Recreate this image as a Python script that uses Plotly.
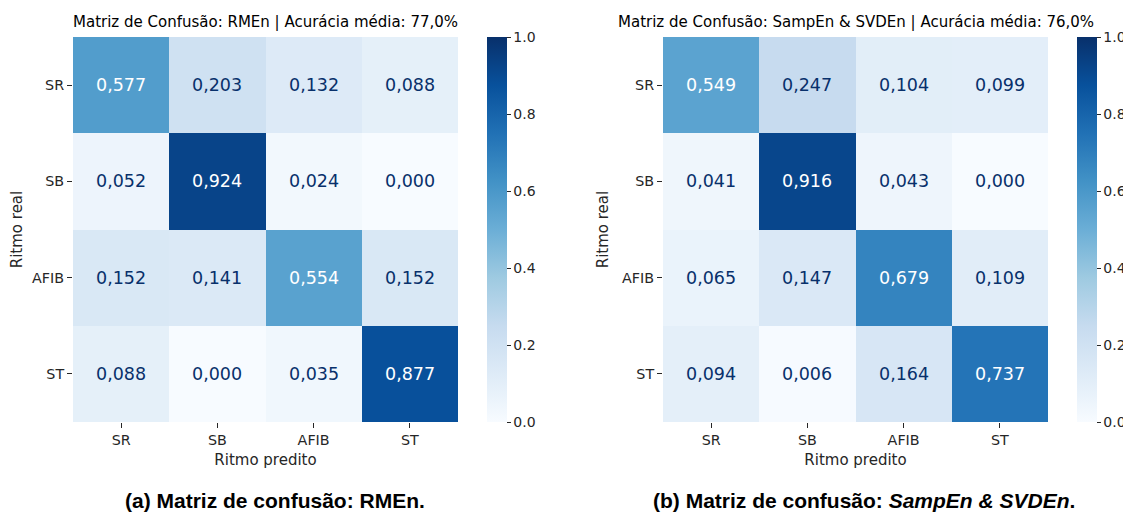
import plotly.graph_objects as go

labels = ["SR", "SB", "AFIB", "ST"]

cm_rmen = [
    [0.577, 0.203, 0.132, 0.088],
    [0.052, 0.924, 0.024, 0.000],
    [0.152, 0.141, 0.554, 0.152],
    [0.088, 0.000, 0.035, 0.877],
]
cm_samp_svd = [
    [0.549, 0.247, 0.104, 0.099],
    [0.041, 0.916, 0.043, 0.000],
    [0.065, 0.147, 0.679, 0.109],
    [0.094, 0.006, 0.164, 0.737],
]
titles = [
    "Matriz de Confusão: RMEn | Acurácia média: 77,0%",
    "Matriz de Confusão: SampEn & SVDEn | Acurácia média: 76,0%",
]
captions = [
    "<b>(a) Matriz de confusão: RMEn.</b>",
    "<b>(b) Matriz de confusão: <i>SampEn & SVDEn</i>.</b>",
]
cbar_ticks = [0.0, 0.2, 0.4, 0.6, 0.8, 1.0]

blues = [
    [0.0, "#f7fbff"], [0.125, "#deebf7"], [0.25, "#c6dbef"], [0.375, "#9ecae1"],
    [0.5, "#6baed6"], [0.625, "#4292c6"], [0.75, "#2171b5"], [0.875, "#08519c"],
    [1.0, "#08306b"],
]

# page body has an 8px default margin; compensate so the layout matches the window
OFF = 8
W, H = 1131 - OFF, 514 - OFF
def px_x(p): return (p - OFF) / W
def px_y(p): return 1 - (p - OFF) / H

y_top, y_bot = 37, 422
panels = [
    dict(x0=73, x1=458, cb=487, cap=275),
    dict(x0=663, x1=1048, cb=1077, cap=864),
]
mats = [cm_rmen, cm_samp_svd]

fig = go.Figure()
annotations = []
font_main = "DejaVu Sans"
dark = "#262626"

for i, (p, cm) in enumerate(zip(panels, mats)):
    xa = "x" if i == 0 else "x2"
    ya = "y" if i == 0 else "y2"
    fig.add_trace(go.Heatmap(
        z=cm, x=labels, y=labels, zmin=0, zmax=1, colorscale=blues,
        xaxis=xa, yaxis=ya, hoverinfo="skip",
        colorbar=dict(
            x=px_x(p["cb"]), xanchor="left", xref="paper",
            y=(px_y(y_top) + px_y(y_bot)) / 2, yanchor="middle",
            len=px_y(y_top) - px_y(y_bot), lenmode="fraction",
            thickness=20, thicknessmode="pixels", xpad=0, ypad=0,
            outlinewidth=0, ticks="outside", ticklen=4, tickcolor=dark,
            tickvals=cbar_ticks, ticktext=[f"{v:.1f}" for v in cbar_ticks],
            tickfont=dict(family=font_main, size=14, color=dark),
        ),
    ))
    for r, row in enumerate(cm):
        for c, v in enumerate(row):
            annotations.append(dict(
                x=labels[c], y=labels[r], xref=xa, yref=ya,
                text=f"{v:.3f}".replace(".", ","), showarrow=False,
                font=dict(family=font_main, size=17.5,
                          color="white" if v > 0.5 else "#08306b"),
            ))
    cx = (p["x0"] + p["x1"]) / 2
    annotations.append(dict(
        x=px_x(cx), y=px_y(22), xref="paper", yref="paper", text=titles[i],
        showarrow=False, xanchor="center", yanchor="middle",
        font=dict(family=font_main, size=15, color="black"),
    ))
    annotations.append(dict(
        x=px_x(p["cap"]), y=px_y(500), xref="paper", yref="paper",
        text=captions[i], showarrow=False, xanchor="center", yanchor="middle",
        font=dict(family="Liberation Sans", size=21, color="black"),
    ))
    axis_common = dict(
        ticks="outside", ticklen=5, tickcolor=dark, tickwidth=1,
        tickfont=dict(family=font_main, size=14.3, color=dark),
        showgrid=False, zeroline=False, showline=False,
    )
    fig.layout[("xaxis" if i == 0 else "xaxis2")] = dict(
        domain=[px_x(p["x0"]), px_x(p["x1"])], anchor=ya,
        title=dict(text="Ritmo predito", standoff=7,
                   font=dict(family=font_main, size=15, color=dark)),
        **axis_common,
    )
    fig.layout[("yaxis" if i == 0 else "yaxis2")] = dict(
        domain=[px_y(y_bot), px_y(y_top)], anchor=xa, autorange="reversed",
        title=dict(text="Ritmo real", standoff=9,
                   font=dict(family=font_main, size=15, color=dark)),
        **axis_common,
    )

fig.update_layout(
    width=W, height=H, margin=dict(l=0, r=0, t=0, b=0),
    paper_bgcolor="white", plot_bgcolor="white",
    annotations=annotations,
)
fig.write_html("out.html")
